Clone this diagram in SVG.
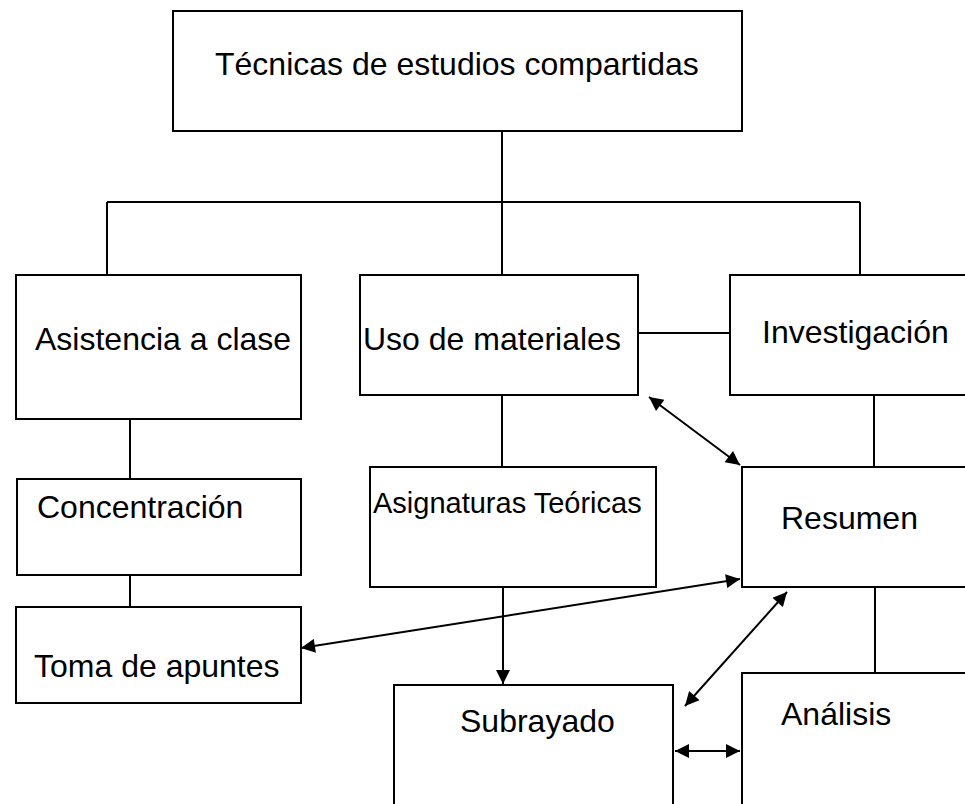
<svg xmlns="http://www.w3.org/2000/svg" width="965" height="804" viewBox="0 0 965 804">
<style>
rect.box{fill:#fff;stroke:#000;stroke-width:2}
text{font-family:"Liberation Sans",Arial,sans-serif;font-size:32px;fill:#000}
.c line{stroke:#000;stroke-width:2;fill:none}
.a{marker-end:url(#ah)}
.d{marker-start:url(#ah);marker-end:url(#ah)}
</style>
<defs>
<marker id="ah" viewBox="0 0 10 10" refX="10" refY="5" markerWidth="8" markerHeight="7" markerUnits="strokeWidth" orient="auto-start-reverse">
<path d="M0,0 L10,5 L0,10 z" fill="#000"/>
</marker>
</defs>
<g class="c" id="connectors">
<line x1="502" y1="131" x2="502" y2="275"/>
<line x1="107" y1="202" x2="860" y2="202"/>
<line x1="107" y1="202" x2="107" y2="275"/>
<line x1="860" y1="202" x2="860" y2="275"/>
<line x1="130" y1="419" x2="130" y2="479"/>
<line x1="130" y1="575" x2="130" y2="607"/>
<line x1="502" y1="395" x2="502" y2="467"/>
<line x1="638" y1="333" x2="730" y2="333"/>
<line x1="874" y1="395" x2="874" y2="467"/>
<line x1="875" y1="587" x2="875" y2="677"/>
<line class="d" x1="649" y1="397" x2="740" y2="465"/>
<line class="d" x1="301" y1="648" x2="740" y2="579"/>
<line class="a" x1="503" y1="587" x2="503" y2="684"/>
<line class="d" x1="787" y1="592" x2="685" y2="706"/>
<line class="d" x1="675" y1="751" x2="740" y2="751"/>
</g>
<g id="n-top"><rect class="box" x="173" y="11" width="569" height="120"/><text x="215" y="75">Técnicas de estudios compartidas</text></g>
<g id="n-asistencia"><rect class="box" x="16" y="275" width="285" height="144"/><text x="35" y="350">Asistencia a clase</text></g>
<g id="n-uso"><rect class="box" x="360" y="275" width="278" height="120"/><text x="363" y="350">Uso de materiales</text></g>
<g id="n-investigacion"><rect class="box" x="730" y="275" width="250" height="120"/><text x="762" y="343">Investigación</text></g>
<g id="n-concentracion"><rect class="box" x="17" y="479" width="284" height="96"/><text x="37" y="518">Concentración</text></g>
<g id="n-asignaturas"><rect class="box" x="370" y="467" width="286" height="120"/><text x="373" y="513" style="font-size:29px">Asignaturas Teóricas</text></g>
<g id="n-resumen"><rect class="box" x="742" y="467" width="240" height="120"/><text x="781" y="529">Resumen</text></g>
<g id="n-toma"><rect class="box" x="16" y="607" width="285" height="96"/><text x="34" y="677">Toma de apuntes</text></g>
<g id="n-subrayado"><rect class="box" x="394" y="685" width="279" height="140"/><text x="460" y="732">Subrayado</text></g>
<g id="n-analisis"><rect class="box" x="742" y="673" width="240" height="150"/><text x="781" y="725">Análisis</text></g>
</svg>
